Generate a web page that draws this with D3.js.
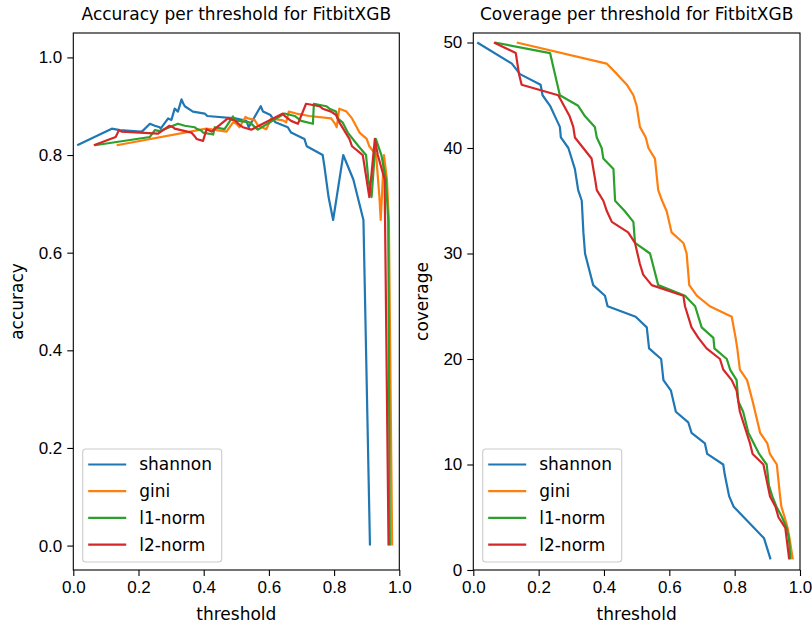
<!DOCTYPE html>
<html>
<head>
<meta charset="utf-8">
<script src="https://cdn.jsdelivr.net/npm/d3@7"></script>
<style>
    body { margin: 0; background: #fff; }
    svg { display: block; font-family: "DejaVu Sans", sans-serif; }
    .tick text { font-size: 17px; fill: #000; }
    .tick line { stroke: #000; stroke-width: 1.1; }
    .domain { display: none; }
    .frame { fill: none; stroke: #000; stroke-width: 1.1; }
    .title, .label, .legend-text { font-size: 17px; fill: #000; }
    .series { fill: none; stroke-width: 2.2; stroke-linejoin: round; stroke-linecap: butt; }
</style>
</head>
<body>
<svg width="812" height="628"></svg>
<script>
// Methods and colours
let methods = ["shannon", "gini", "l1-norm", "l2-norm"];
let colors = ["#1f77b4", "#ff7f0e", "#2ca02c", "#d62728"];

// shannon
let shannonThreshold = [0.012, 0.118, 0.143, 0.206, 0.212, 0.235, 0.25, 0.265, 0.268, 0.291, 0.301, 0.311, 0.321, 0.332, 0.337, 0.342, 0.367, 0.403, 0.411, 0.497, 0.531, 0.538, 0.575, 0.582, 0.605, 0.62, 0.658, 0.668, 0.709, 0.716, 0.765, 0.77, 0.783, 0.797, 0.828, 0.859, 0.89, 0.91];
let shannonAccuracy = [0.82, 0.854, 0.851, 0.848, 0.849, 0.864, 0.86, 0.857, 0.854, 0.875, 0.872, 0.895, 0.889, 0.914, 0.906, 0.9, 0.889, 0.885, 0.88, 0.875, 0.87, 0.857, 0.9, 0.889, 0.882, 0.867, 0.857, 0.846, 0.833, 0.818, 0.8, 0.778, 0.714, 0.667, 0.8, 0.75, 0.667, 0.0];
let shannonCoverage = [50, 48, 47, 46, 45, 44, 43, 42, 41, 40, 39, 38, 36, 35, 32, 30, 27, 26, 25, 24, 23, 21, 20, 18, 17, 15, 14, 13, 12, 11, 10, 9, 7, 6, 5, 4, 3, 1];

// gini
let giniThreshold = [0.133, 0.408, 0.44, 0.47, 0.49, 0.5, 0.51, 0.528, 0.536, 0.556, 0.566, 0.578, 0.592, 0.607, 0.643, 0.653, 0.661, 0.684, 0.724, 0.791, 0.803, 0.808, 0.816, 0.838, 0.855, 0.878, 0.9, 0.908, 0.929, 0.939, 0.943, 0.953, 0.962, 0.968, 0.978];
let giniAccuracy = [0.82, 0.854, 0.851, 0.848, 0.867, 0.864, 0.857, 0.878, 0.875, 0.872, 0.861, 0.857, 0.853, 0.875, 0.871, 0.867, 0.889, 0.885, 0.88, 0.875, 0.864, 0.857, 0.895, 0.889, 0.875, 0.846, 0.833, 0.818, 0.8, 0.714, 0.667, 0.8, 0.75, 0.667, 0.0];
let giniCoverage = [50, 48, 47, 46, 45, 44, 42, 41, 40, 39, 36, 35, 34, 32, 31, 30, 27, 26, 25, 24, 22, 21, 19, 18, 16, 13, 12, 11, 10, 7, 6, 5, 4, 3, 1];

// l1-norm
let l1Threshold = [0.066, 0.235, 0.25, 0.265, 0.321, 0.342, 0.372, 0.378, 0.393, 0.398, 0.429, 0.434, 0.464, 0.49, 0.495, 0.541, 0.566, 0.648, 0.679, 0.699, 0.735, 0.738, 0.776, 0.786, 0.806, 0.811, 0.826, 0.842, 0.875, 0.898, 0.905, 0.915, 0.928, 0.945, 0.959, 0.966, 0.971];
let l1Accuracy = [0.82, 0.837, 0.851, 0.849, 0.864, 0.86, 0.857, 0.854, 0.85, 0.846, 0.842, 0.857, 0.853, 0.879, 0.871, 0.867, 0.852, 0.885, 0.88, 0.87, 0.864, 0.905, 0.9, 0.895, 0.889, 0.875, 0.867, 0.846, 0.818, 0.8, 0.75, 0.714, 0.833, 0.8, 0.75, 0.667, 0.0];
let l1Coverage = [50, 49, 47, 45, 44, 43, 42, 41, 40, 39, 38, 35, 34, 33, 31, 30, 27, 26, 25, 23, 22, 21, 20, 19, 18, 16, 15, 13, 11, 10, 8, 7, 6, 5, 4, 3, 1];

// l2-norm
let l2Threshold = [0.063, 0.13, 0.14, 0.148, 0.26, 0.295, 0.306, 0.311, 0.362, 0.373, 0.378, 0.398, 0.409, 0.424, 0.474, 0.495, 0.51, 0.52, 0.546, 0.643, 0.648, 0.668, 0.689, 0.714, 0.755, 0.765, 0.791, 0.806, 0.816, 0.847, 0.855, 0.888, 0.908, 0.925, 0.934, 0.955, 0.967];
let l2Accuracy = [0.82, 0.837, 0.851, 0.848, 0.844, 0.86, 0.857, 0.854, 0.846, 0.838, 0.833, 0.829, 0.853, 0.848, 0.875, 0.871, 0.862, 0.857, 0.852, 0.885, 0.88, 0.87, 0.864, 0.905, 0.9, 0.895, 0.889, 0.882, 0.867, 0.833, 0.818, 0.8, 0.714, 0.833, 0.8, 0.75, 0.0];
let l2Coverage = [50, 49, 47, 46, 45, 43, 42, 41, 39, 37, 36, 35, 34, 33, 32, 31, 29, 28, 27, 26, 25, 23, 22, 21, 20, 19, 18, 17, 15, 12, 11, 10, 7, 6, 5, 4, 1];

// Tick labels
let xTicks = [0, 0.2, 0.4, 0.6, 0.8, 1.0];
let accuracyTicks = [0, 0.2, 0.4, 0.6, 0.8, 1.0];
let coverageTicks = [0, 10, 20, 30, 40, 50];

let thresholds = [shannonThreshold, giniThreshold, l1Threshold, l2Threshold];
let accuracies = [shannonAccuracy, giniAccuracy, l1Accuracy, l2Accuracy];
let coverages = [shannonCoverage, giniCoverage, l1Coverage, l2Coverage];

// Set up variables
let svg = d3.select("svg");
let plotTop = 33;
let plotBottom = 570;
let panels = [
    {left: 73.3, right: 399.3, title: "Accuracy per threshold for FitbitXGB", ylabel: "accuracy",
     values: accuracies, domain: [-0.05, 1.05], ticks: accuracyTicks, format: d3.format(".1f"), labelX: 23},
    {left: 473.3, right: 800, title: "Coverage per threshold for FitbitXGB", ylabel: "coverage",
     values: coverages, domain: [0, 50.9], ticks: coverageTicks, format: d3.format("d"), labelX: 428}
];

panels.forEach(function(p) {

    // Set up scales
    let xScale = d3.scaleLinear().domain([0, 1]).range([p.left, p.right]);
    let yScale = d3.scaleLinear().domain(p.domain).range([plotBottom, plotTop]);

    // Draw axes
    svg.append("g")
        .attr("transform", "translate(0," + plotBottom + ")")
        .call(d3.axisBottom(xScale).tickValues(xTicks).tickFormat(d3.format(".1f")).tickSize(6).tickPadding(5));

    svg.append("g")
        .attr("transform", "translate(" + p.left + ",0)")
        .call(d3.axisLeft(yScale).tickValues(p.ticks).tickFormat(p.format).tickSize(6).tickPadding(5));

    // Draw lines
    let line = d3.line()
        .x(function(d) { return xScale(d[0]); })
        .y(function(d) { return yScale(d[1]); });

    methods.forEach(function(m, i) {
        let pts = thresholds[i].map(function(t, j) { return [t, p.values[i][j]]; });
        svg.append("path")
            .datum(pts)
            .attr("class", "series")
            .attr("stroke", colors[i])
            .attr("d", line);
    });

    // Frame
    svg.append("rect")
        .attr("class", "frame")
        .attr("x", p.left)
        .attr("y", plotTop)
        .attr("width", p.right - p.left)
        .attr("height", plotBottom - plotTop);

    // Titles and labels
    svg.append("text")
        .attr("class", "title")
        .attr("x", (p.left + p.right) / 2)
        .attr("y", 20)
        .attr("text-anchor", "middle")
        .text(p.title);

    svg.append("text")
        .attr("class", "label")
        .attr("x", (p.left + p.right) / 2)
        .attr("y", 620)
        .attr("text-anchor", "middle")
        .text("threshold");

    svg.append("text")
        .attr("class", "label")
        .attr("transform", "translate(" + p.labelX + "," + ((plotTop + plotBottom) / 2) + ") rotate(-90)")
        .attr("text-anchor", "middle")
        .text(p.ylabel);

    // Legend
    let lx = p.left + 9.4;
    let legend = svg.append("g").attr("transform", "translate(" + lx + ",449)");

    legend.append("rect")
        .attr("width", 139)
        .attr("height", 113)
        .attr("rx", 3)
        .attr("fill", "#fff")
        .attr("fill-opacity", 0.8)
        .attr("stroke", "#ccc")
        .attr("stroke-width", 1.1);

    methods.forEach(function(m, i) {
        let y = 15.5 + i * 26.7;
        legend.append("line")
            .attr("x1", 5.5)
            .attr("x2", 43.5)
            .attr("y1", y)
            .attr("y2", y)
            .attr("stroke", colors[i])
            .attr("stroke-width", 2.2);
        legend.append("text")
            .attr("class", "legend-text")
            .attr("x", 56.5)
            .attr("y", y)
            .attr("dy", "0.35em")
            .text(m);
    });

});
</script>
</body>
</html>
